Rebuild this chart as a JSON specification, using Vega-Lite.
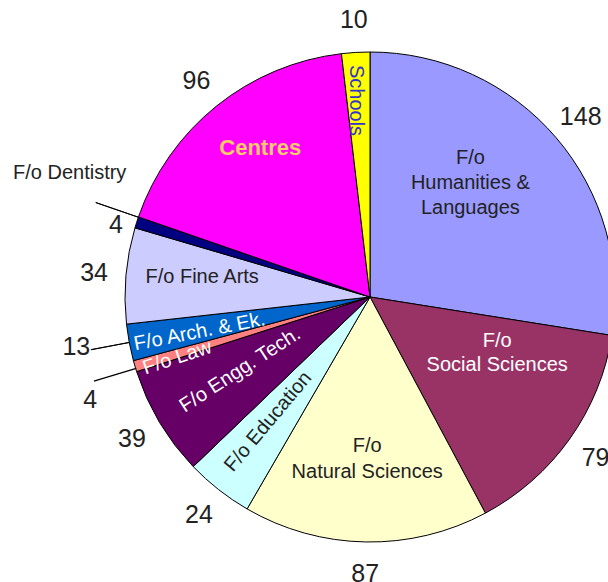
{
  "$schema": "https://vega.github.io/schema/vega-lite/v6.json",
  "width": 608,
  "height": 582,
  "padding": 0,
  "autosize": {"type": "fit", "contains": "padding"},
  "background": "white",
  "config": {"view": {"stroke": null}, "text": {"font": "Liberation Sans, Arial, sans-serif"}},
  "data": {
    "values": [
      {"idx": 1, "cat": "Humanities", "label": "F/o\nHumanities &\nLanguages", "value": 148},
      {"idx": 2, "cat": "Social", "label": "F/o\nSocial Sciences", "value": 79},
      {"idx": 3, "cat": "Natural", "label": "F/o\nNatural Sciences", "value": 87},
      {"idx": 4, "cat": "Education", "label": "F/o Education", "value": 24},
      {"idx": 5, "cat": "Engg", "label": "F/o Engg. Tech.", "value": 39},
      {"idx": 6, "cat": "Law", "label": "F/o Law", "value": 4},
      {"idx": 7, "cat": "Arch", "label": "F/o Arch. & Ek.", "value": 13},
      {"idx": 8, "cat": "FineArts", "label": "F/o Fine Arts", "value": 34},
      {"idx": 9, "cat": "Dentistry", "label": "F/o Dentistry", "value": 4},
      {"idx": 10, "cat": "Centres", "label": "Centres", "value": 96},
      {"idx": 11, "cat": "Schools", "label": "Schools", "value": 10}
    ]
  },
  "transform": [
    {"window": [{"op": "sum", "field": "value", "as": "cum"}], "sort": [{"field": "idx"}], "frame": [null, 0]},
    {"calculate": "datum.cum - datum.value / 2", "as": "mid"}
  ],
  "layer": [
    {
      "mark": {"type": "arc", "outerRadius": 245, "x": 370, "y": 297, "stroke": "#000000", "strokeWidth": 1},
      "encoding": {
        "theta": {"field": "value", "type": "quantitative", "stack": true},
        "order": {"field": "idx", "type": "quantitative"},
        "color": {
          "field": "cat", "type": "nominal", "legend": null,
          "scale": {
            "domain": ["Humanities", "Social", "Natural", "Education", "Engg", "Law", "Arch", "FineArts", "Dentistry", "Centres", "Schools"],
            "range": ["#9999FF", "#993366", "#FFFFCC", "#CCFFFF", "#660066", "#FF8080", "#0066CC", "#CCCCFF", "#000080", "#FF00FF", "#FFFF00"]
          }
        }
      }
    },
    {
      "transform": [{"filter": "datum.cat === 'Arch'"}],
      "mark": {"type": "arc", "x": 370, "y": 297, "radius2": 245, "radius": 284, "theta2Offset": 0.0004, "stroke": "#000000", "strokeWidth": 1, "fill": null},
      "encoding": {
        "theta": {"field": "mid", "type": "quantitative", "stack": null},
        "theta2": {"field": "mid"}
      }
    },
    {
      "transform": [{"filter": "datum.cat === 'Law'"}],
      "mark": {"type": "arc", "x": 370, "y": 297, "radius2": 245, "radius": 288, "thetaOffset": -0.01, "theta2Offset": -0.0096, "stroke": "#000000", "strokeWidth": 1.2, "fill": null},
      "encoding": {
        "theta": {"field": "mid", "type": "quantitative", "stack": null},
        "theta2": {"field": "mid"}
      }
    },
    {
      "transform": [{"filter": "datum.cat === 'Dentistry'"}],
      "mark": {"type": "arc", "x": 370, "y": 297, "radius2": 245, "radius": 290, "thetaOffset": 0.022, "theta2Offset": 0.0224, "stroke": "#000000", "strokeWidth": 1, "fill": null},
      "encoding": {
        "theta": {"field": "mid", "type": "quantitative", "stack": null},
        "theta2": {"field": "mid"}
      }
    },
    {
      "transform": [{"filter": "datum.cat !== 'Law' && datum.cat !== 'Arch' && datum.cat !== 'Dentistry'"}],
      "mark": {"type": "text", "x": 370, "y": 297, "radius": 277, "fontSize": 25, "color": "#222222"},
      "encoding": {
        "theta": {"field": "mid", "type": "quantitative", "stack": null},
        "text": {"field": "value", "type": "quantitative"}
      }
    },
    {
      "transform": [{"filter": "datum.cat === 'Law'"}],
      "mark": {"type": "text", "x": 370, "y": 297, "radius": 298, "thetaOffset": -0.066, "fontSize": 25, "color": "#222222"},
      "encoding": {
        "theta": {"field": "mid", "type": "quantitative", "stack": null},
        "text": {"field": "value", "type": "quantitative"}
      }
    },
    {
      "transform": [{"filter": "datum.cat === 'Arch'"}],
      "mark": {"type": "text", "x": 370, "y": 297, "radius": 298, "thetaOffset": 0.017, "fontSize": 25, "color": "#222222"},
      "encoding": {
        "theta": {"field": "mid", "type": "quantitative", "stack": null},
        "text": {"field": "value", "type": "quantitative"}
      }
    },
    {
      "transform": [{"filter": "datum.cat === 'Dentistry'"}],
      "mark": {"type": "text", "x": 370, "y": 297, "radius": 264, "thetaOffset": -0.035, "fontSize": 25, "color": "#222222"},
      "encoding": {
        "theta": {"field": "mid", "type": "quantitative", "stack": null},
        "text": {"field": "value", "type": "quantitative"}
      }
    },
    {
      "transform": [{"filter": "datum.cat === 'Dentistry'"}],
      "mark": {"type": "text", "x": 370, "y": 297, "radius": 325, "thetaOffset": 0.0826, "fontSize": 20, "color": "#222222"},
      "encoding": {
        "theta": {"field": "mid", "type": "quantitative", "stack": null},
        "text": {"field": "label", "type": "nominal"}
      }
    },
    {
      "transform": [{"filter": "datum.cat === 'Humanities'"}],
      "mark": {"type": "text", "x": 370, "y": 297, "radius": 152, "thetaOffset": -0.143, "dy": -25, "fontSize": 20, "lineHeight": 25, "lineBreak": "\n", "color": "#222222"},
      "encoding": {
        "theta": {"field": "mid", "type": "quantitative", "stack": null},
        "text": {"field": "label", "type": "nominal"}
      }
    },
    {
      "transform": [{"filter": "datum.cat === 'Social'"}],
      "mark": {"type": "text", "x": 370, "y": 297, "radius": 139, "thetaOffset": -0.204, "dy": -12, "fontSize": 20, "lineHeight": 24, "lineBreak": "\n", "color": "#FFFFFF"},
      "encoding": {
        "theta": {"field": "mid", "type": "quantitative", "stack": null},
        "text": {"field": "label", "type": "nominal"}
      }
    },
    {
      "transform": [{"filter": "datum.cat === 'Natural'"}],
      "mark": {"type": "text", "x": 370, "y": 297, "radius": 162, "dy": -13, "fontSize": 20, "lineHeight": 26, "lineBreak": "\n", "color": "#222222"},
      "encoding": {
        "theta": {"field": "mid", "type": "quantitative", "stack": null},
        "text": {"field": "label", "type": "nominal"}
      }
    },
    {
      "transform": [{"filter": "datum.cat === 'Education'"}],
      "mark": {"type": "text", "x": 370, "y": 297, "radius": 161, "thetaOffset": 0.019, "angle": 310, "fontSize": 20, "color": "#222222"},
      "encoding": {
        "theta": {"field": "mid", "type": "quantitative", "stack": null},
        "text": {"field": "label", "type": "nominal"}
      }
    },
    {
      "transform": [{"filter": "datum.cat === 'Engg'"}],
      "mark": {"type": "text", "x": 370, "y": 297, "radius": 149, "thetaOffset": 0.026, "angle": 327, "fontSize": 20, "color": "#FFFFFF"},
      "encoding": {
        "theta": {"field": "mid", "type": "quantitative", "stack": null},
        "text": {"field": "label", "type": "nominal"}
      }
    },
    {
      "transform": [{"filter": "datum.cat === 'Law'"}],
      "mark": {"type": "text", "x": 370, "y": 297, "radius": 202, "thetaOffset": -0.019, "angle": 342, "fontSize": 20, "color": "#FFFFFF"},
      "encoding": {
        "theta": {"field": "mid", "type": "quantitative", "stack": null},
        "text": {"field": "label", "type": "nominal"}
      }
    },
    {
      "transform": [{"filter": "datum.cat === 'Arch'"}],
      "mark": {"type": "text", "x": 370, "y": 297, "radius": 174, "thetaOffset": -0.014, "angle": 349, "fontSize": 20, "color": "#FFFFFF"},
      "encoding": {
        "theta": {"field": "mid", "type": "quantitative", "stack": null},
        "text": {"field": "label", "type": "nominal"}
      }
    },
    {
      "transform": [{"filter": "datum.cat === 'FineArts'"}],
      "mark": {"type": "text", "x": 370, "y": 297, "radius": 169, "thetaOffset": 0.031, "fontSize": 20, "color": "#222222"},
      "encoding": {
        "theta": {"field": "mid", "type": "quantitative", "stack": null},
        "text": {"field": "label", "type": "nominal"}
      }
    },
    {
      "transform": [{"filter": "datum.cat === 'Centres'"}],
      "mark": {"type": "text", "x": 370, "y": 297, "radius": 185, "thetaOffset": 0.042, "fontSize": 22, "fontWeight": "bold", "color": "#FFCC66"},
      "encoding": {
        "theta": {"field": "mid", "type": "quantitative", "stack": null},
        "text": {"field": "label", "type": "nominal"}
      }
    },
    {
      "transform": [{"filter": "datum.cat === 'Schools'"}],
      "mark": {"type": "text", "x": 370, "y": 297, "radius": 197, "thetaOffset": -0.014, "angle": 90, "fontSize": 20, "color": "#3333CC"},
      "encoding": {
        "theta": {"field": "mid", "type": "quantitative", "stack": null},
        "text": {"field": "label", "type": "nominal"}
      }
    }
  ]
}
